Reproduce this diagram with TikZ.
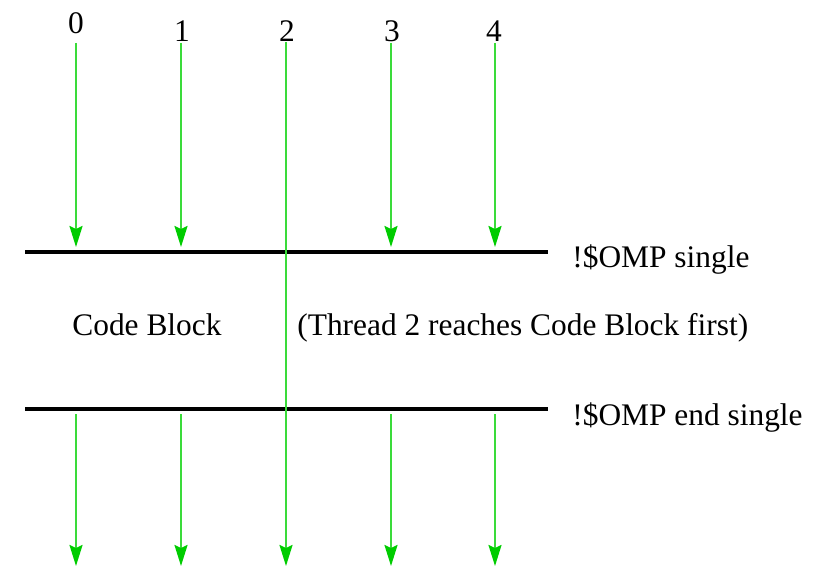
\documentclass[tikz,border=0pt]{standalone}
\usepackage{fontspec}
\newfontfamily\ompfont{Liberation Serif}
\usepackage{tikz}
\usetikzlibrary{arrows.meta}
\definecolor{thrgreen}{HTML}{3ADB3A}
\definecolor{tipgreen}{HTML}{00CC00}

\begin{document}
\begin{tikzpicture}[x=0.5pt, y=-0.5pt, font=\ompfont\fontsize{15.7}{18}\selectfont,
  thread/.style={draw=thrgreen, line width=1pt, -{Stealth[length=10.5pt, width=6.5pt, inset=1.5pt, color=tipgreen, fill=tipgreen]}},
  barrier/.style={draw=black, line width=1.6pt},
  lbl/.style={anchor=base west, inner sep=0pt}]
\useasboundingbox (0,0) rectangle (818,567);
% thread numbers
\node (n0) at (76,23) {0};
\node (n1) at (182,31) {1};
\node (n2) at (287,31) {2};
\node (n3) at (392,31) {3};
\node (n4) at (494,31) {4};
% barriers
\coordinate (top west) at (25,252);
\coordinate (top east) at (548,252);
\coordinate (bot west) at (25,409);
\coordinate (bot east) at (548,409);
\draw[barrier] (top west) -- (top east);
\draw[barrier] (bot west) -- (bot east);
\node[lbl] (single) at (572,267) {!\$OMP single};
\node[lbl] (endsingle) at (572,425) {!\$OMP end single};
\node[lbl] (code) at (72,335) {Code Block};
\node[lbl] (first) at (297,335) {(Thread 2 reaches Code Block first)};
% threads waiting at the barrier
\foreach \x/\t in {76/0, 181/1, 391/3, 495/4} {
  \coordinate (s\t) at (\x,43);
  \coordinate (w\t) at (\x,247);
  \coordinate (r\t) at (\x,414);
  \coordinate (e\t) at (\x,566);
  \draw[thread] (s\t) -- (w\t);
  \draw[thread] (r\t) -- (e\t);
}
% thread 2 runs through
\coordinate (s2) at (286,42);
\coordinate (e2) at (286,566);
\draw[thread] (s2) -- (e2);
\end{tikzpicture}
\end{document}
